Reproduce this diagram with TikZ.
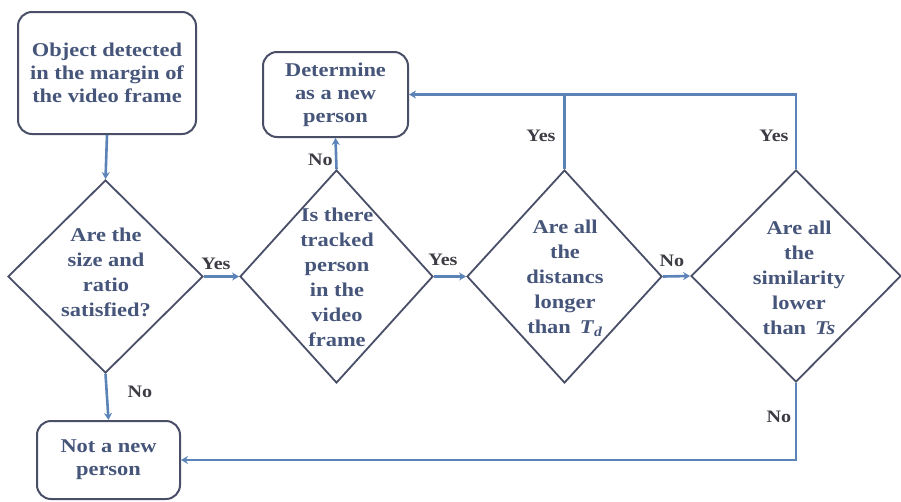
\documentclass[tikz,border=0pt]{standalone}
\usepackage{fontspec}
\setmainfont{Liberation Serif}[FakeStretch=1.15]
\usetikzlibrary{shapes.geometric,arrows.meta}
\definecolor{txtc}{HTML}{46557A}
\definecolor{edgec}{HTML}{4A4F68}
\definecolor{flowc}{HTML}{5B83B8}
\definecolor{lblc}{HTML}{3C3C44}
\tikzset{
  procbox/.style={draw=edgec, line width=2pt, rounded corners=14pt, inner sep=0pt},
  decision/.style={draw=edgec, line width=1.8pt, diamond, inner sep=0pt},
  boxtext/.style={text=txtc, font=\fontsize{19.5}{23}\selectfont\bfseries, align=center},
  dtext/.style={text=txtc, font=\fontsize{19.5}{25}\selectfont\bfseries, align=center},
  lbl/.style={text=lblc, font=\fontsize{17.5}{20}\selectfont\bfseries, inner sep=1pt},
  flow/.style={draw=flowc, line width=2.6pt},
  arr/.style={flow, -{Stealth[length=7pt,width=8pt]}},
}
\begin{document}
\begin{tikzpicture}[x=1pt,y=-1pt]
\useasboundingbox (0,0) rectangle (901,501);
\fill[white] (0,0) rectangle (901,501);

% process boxes
\node[procbox, minimum width=178pt, minimum height=122pt] (obj) at (107,73) {};
\node[boxtext] (objt) at (obj) {Object detected\\in the margin of\\the video frame};
\node[procbox, minimum width=145pt, minimum height=85pt] (det) at (335.5,94.5) {};
\node[boxtext] (dett) at (det) {Determine\\as a new\\person};
\node[procbox, minimum width=143pt, minimum height=78pt] (notnew) at (108.5,460) {};
\node[boxtext] (notnewt) at (notnew) {Not a new\\person};

% decisions
\node[decision, minimum width=195pt, minimum height=193pt] (d1) at (105.5,276.5) {};
\node[dtext] (d1t) at (106,272) {Are the\\size and\\ratio\\satisfied?};
\node[decision, minimum width=193pt, minimum height=213pt] (d2) at (336.5,276.5) {};
\node[dtext] (d2t) at (337,277) {Is there\\tracked\\person\\in the\\video\\frame};
\node[decision, minimum width=195pt, minimum height=213pt] (d3) at (564.5,276.5) {};
\node[dtext] (d3t) at (565,278) {Are all\\the\\distancs\\longer\\than \,\textit{T}\textsubscript{\textit{d}}};
\node[decision, minimum width=210pt, minimum height=212pt] (d4) at (796,276) {};
\node[dtext] (d4t) at (799,278) {Are all\\the\\similarity\\lower\\than \,\textit{Ts}};

% main flow
\draw[arr] (obj.south) -- (d1.north);
\draw[arr] (d1.east) -- (d2.west);
\draw[arr] (d2.east) -- (d3.west);
\draw[arr] (d3.east) -- (d4.west);
\draw[arr] (d2.north) -- (det.south);
\draw[arr] (d1.south) -- (notnew.north);

% return paths
\draw[flow] (d3.north) -- (d3.north |- det.east);
\draw[arr] (d4.north) |- (det.east);
\draw[arr] (d4.south) |- (notnew.east);

% branch labels
\node[lbl] (y1) at (216,264) {Yes};
\node[lbl] (y2) at (443,260) {Yes};
\node[lbl] (n3) at (672,261) {No};
\node[lbl, anchor=east] (n2) at (334,160) {No};
\node[lbl] (y3) at (541,136) {Yes};
\node[lbl] (y4) at (774,136) {Yes};
\node[lbl] (n1) at (140,392) {No};
\node[lbl] (n4) at (779,417) {No};
\end{tikzpicture}
\end{document}
